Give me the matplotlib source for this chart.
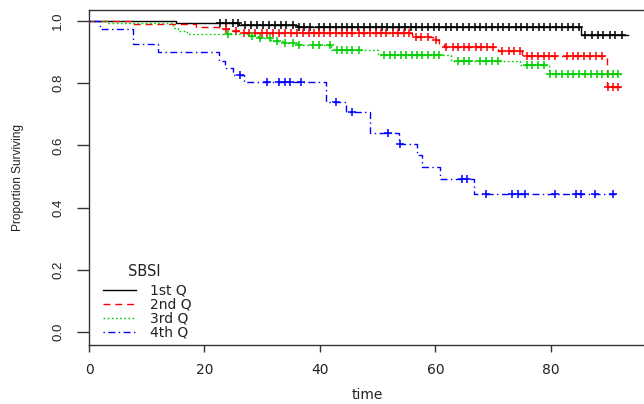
import numpy as np
import matplotlib
matplotlib.use("Agg")
import matplotlib.pyplot as plt
from matplotlib import font_manager

# Kaplan-Meier step curves by SBSI quartile: event times / survival after each event,
# censoring times, and the last follow-up time of each group
q1_time = [0, 15.0, 26.0, 36.0, 85.3]
q1_surv = [1.0, 0.994, 0.988, 0.982, 0.955]
q1_end = 93.4
q1_cens = [22.7, 23.8, 24.9, 25.9, 27.1, 28.1, 29.1, 30.1, 31.1, 32.2, 33.3, 34.2, 35.3,
           36.3, 37.3, 38.3, 39.8, 40.8, 41.7, 42.8, 43.8, 44.7, 45.6, 46.6, 47.7, 48.7,
           49.7, 50.7, 51.7, 52.7, 53.7, 54.7, 55.7, 56.7, 57.7, 58.8, 59.8, 60.7, 61.8,
           62.7, 63.8, 64.8, 65.8, 66.8, 67.8, 68.8, 69.8, 70.9, 71.8, 72.8, 73.9, 74.9,
           75.9, 76.9, 77.9, 78.9, 79.9, 80.9, 81.9, 83.0, 83.9, 84.9, 86.0, 87.1, 88.1,
           89.1, 90.3, 91.2, 92.4]

q2_time = [0, 7.6, 18.6, 22.6, 24.9, 26.4, 56.0, 59.6, 60.7, 61.5, 70.9, 75.0, 89.7]
q2_surv = [1.0, 0.99, 0.981, 0.975, 0.969, 0.962, 0.95, 0.938, 0.927, 0.918, 0.903,
           0.886, 0.787]
q2_end = 92.6
q2_cens = [23.8, 25.5, 26.8, 27.8, 28.8, 29.9, 30.9, 31.9, 33.0, 34.0, 35.0, 36.1, 37.1,
           38.1, 38.9, 39.9, 40.8, 41.7, 42.8, 43.8, 44.7, 45.6, 46.7, 47.7, 48.7, 49.7,
           50.6, 51.5, 52.6, 53.6, 54.6, 55.4, 56.7, 57.6, 58.8, 60.2, 61.9, 63.0, 64.0,
           64.9, 65.9, 67.0, 68.0, 69.0, 70.0, 71.6, 72.7, 73.7, 74.7, 75.9, 76.7, 77.8,
           78.8, 79.7, 80.8, 82.8, 83.8, 84.8, 85.8, 86.8, 87.8, 88.8, 90.0, 90.8, 91.7]

q3_time = [0, 3.1, 14.5, 15.5, 16.9, 27.5, 29.3, 31.5, 33.8, 36.3, 41.9, 50.0, 62.7,
           74.7, 79.7]
q3_surv = [1.0, 0.993, 0.978, 0.968, 0.958, 0.951, 0.944, 0.937, 0.93, 0.922, 0.906,
           0.89, 0.871, 0.857, 0.83]
q3_end = 92.6
q3_cens = [24.0, 28.3, 29.6, 31.3, 32.5, 34.0, 35.3, 36.4, 38.8, 39.8, 41.7, 42.9, 43.8,
           44.7, 45.6, 46.7, 51.1, 52.1, 53.0, 54.0, 55.0, 55.9, 56.9, 57.7, 58.8, 59.8,
           60.7, 64.0, 64.9, 65.9, 67.8, 68.8, 69.8, 70.9, 75.9, 76.7, 77.8, 78.8, 79.9,
           80.9, 81.9, 83.0, 83.9, 84.9, 86.0, 87.0, 88.0, 88.9, 90.0, 90.8, 91.7]

q4_time = [0, 1.9, 7.6, 11.9, 22.6, 23.5, 24.9, 26.9, 41.1, 44.6, 48.7, 53.7, 56.8,
           57.7, 60.8, 66.7]
q4_surv = [1.0, 0.973, 0.925, 0.90, 0.87, 0.848, 0.826, 0.805, 0.74, 0.708, 0.64, 0.603,
           0.569, 0.53, 0.491, 0.443]
q4_end = 91.7
q4_cens = [26.1, 30.9, 33.0, 33.9, 34.9, 36.8, 42.8, 45.6, 51.8, 53.8, 64.6, 65.5, 68.7,
           73.2, 74.4, 75.6, 80.8, 84.3, 85.3, 87.7, 90.8]

group_labels = ["1st Q", "2nd Q", "3rd Q", "4th Q"]
y_ticks = [0.0, 0.2, 0.4, 0.6, 0.8, 1.0]
x_ticks = [0, 20, 40, 60, 80]

colors = ["#000000", "#FF0000", "#00CD00", "#0000FF"]
dashes = [None, (5, 3.5), (1.2, 1.8), (1, 2.5, 5, 2.5)]

names = {f.name for f in font_manager.fontManager.ttflist}
narrow = "Liberation Sans Narrow" if "Liberation Sans Narrow" in names else "Liberation Sans"
wide = "DejaVu Sans"
txt_col = "#222222"

fig = plt.figure(figsize=(6.44, 4.04), dpi=100)
ax = fig.add_axes([89 / 644, 59 / 404, 557 / 644, 335 / 404])

groups = [(q1_time, q1_surv, q1_end, q1_cens),
          (q2_time, q2_surv, q2_end, q2_cens),
          (q3_time, q3_surv, q3_end, q3_cens),
          (q4_time, q4_surv, q4_end, q4_cens)]

handles = []
for k, (t, s, t_end, cens) in enumerate(groups):
    t = np.asarray(t)
    s = np.asarray(s)
    tx = np.append(t, t_end)
    sx = np.append(s, s[-1])
    line, = ax.step(tx, sx, where="post", color=colors[k], lw=1.0, zorder=2 + k,
                    label=group_labels[k])
    if dashes[k] is not None:
        line.set_dashes(dashes[k])
    # censor ticks sit on the curve value at that time
    idx = np.searchsorted(t, cens, side="right") - 1
    ax.plot(cens, s[idx], ls="none", marker="+", ms=6, mew=1.1, color=colors[k],
            zorder=2 + k)
    handles.append(line)

ax.set_xlim(0, 96.5)
ax.set_ylim(-0.0418, 1.0354)

for sp in ax.spines.values():
    sp.set_color("#333333")
    sp.set_linewidth(1.0)

ax.set_xticks(x_ticks)
ax.set_xticklabels([str(v) for v in x_ticks], fontfamily=wide, fontsize=10, color=txt_col)
ax.set_yticks(y_ticks)
ax.set_yticklabels(["%.1f" % v for v in y_ticks], rotation=90, va="center",
                   fontfamily=narrow, fontsize=9.5, color=txt_col)
ax.tick_params(axis="x", direction="out", length=5, width=1.0, color="#333333", pad=8)
ax.tick_params(axis="y", direction="out", length=8.5, width=1.0, color="#333333", pad=9.5)

ax.set_xlabel("time", fontfamily=wide, fontsize=10, color=txt_col)
ax.xaxis.set_label_coords(0.499, -0.128)
ax.set_ylabel("Proportion Surviving", fontfamily=narrow, fontsize=8.6, color=txt_col)
ax.yaxis.set_label_coords(-0.117, 0.5)

leg = ax.legend(handles=handles, loc="lower left",
                bbox_to_anchor=(0.0125, -0.004), frameon=False, borderpad=0,
                prop={"family": wide, "size": 10}, handlelength=2.4,
                handletextpad=1.0, labelspacing=0.0)
for txt in leg.get_texts():
    txt.set_color(txt_col)

# legend heading
ax.text(0.1, 0.218, "SBSI", transform=ax.transAxes, ha="center", va="center",
        fontfamily=wide, fontsize=10.5, color=txt_col)

fig.savefig("out.png", dpi=100)
